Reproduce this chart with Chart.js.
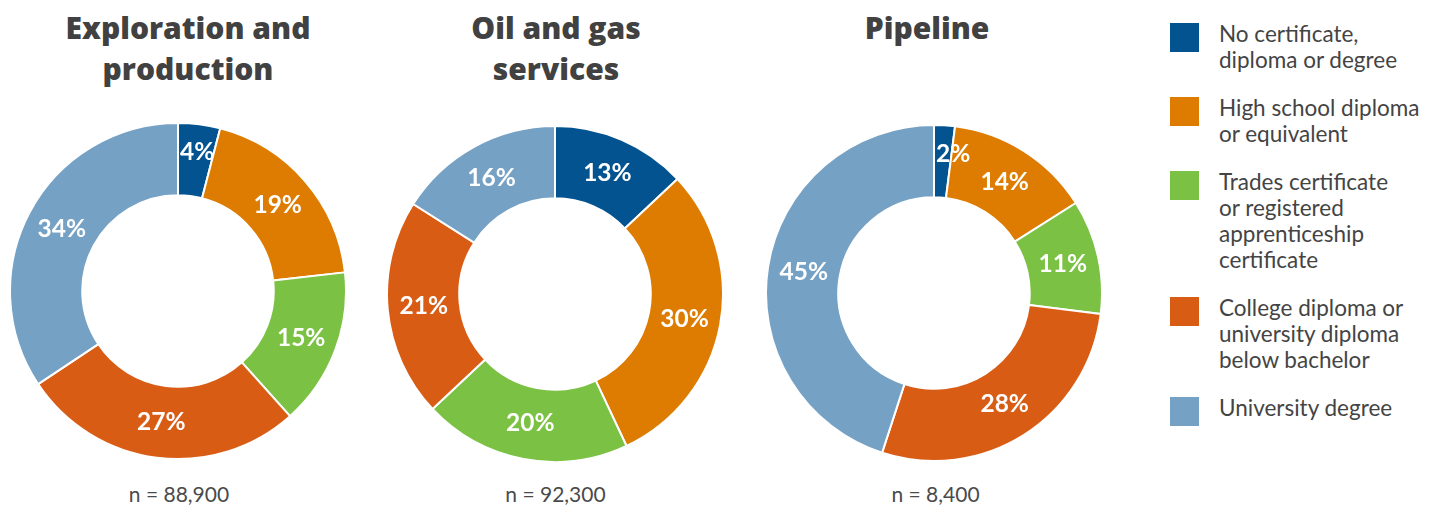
<!DOCTYPE html>
<html>
<head>
<meta charset="utf-8">
<script src="https://cdn.jsdelivr.net/npm/chart.js@4"></script>
<style>
  body { margin: 0; width: 1432px; height: 508px; background: #fff; position: relative; overflow: hidden; font-family: Lato, sans-serif; color: #444; }
  .title { position: absolute; top: 7px; width: 340px; margin-left: -170px; text-align: center; font-family: 'Open Sans', sans-serif; font-weight: 800; font-size: 30px; line-height: 41px; color: #414141; }
  .pie { position: absolute; width: 338px; height: 338px; }
  .count { position: absolute; top: 481px; width: 200px; margin-left: -100px; text-align: center; font-size: 21px; line-height: 25px; color: #4a4a4a; }
  #legend { position: absolute; left: 1170px; top: 21px; display: flex; flex-direction: column; gap: 22px; }
  .item { display: flex; }
  .swatch { width: 29px; height: 29px; margin-top: 2px; margin-right: 20px; flex: none; }
  .item span { font-size: 22.5px; line-height: 26px; color: #444; }
</style>
</head>
<body>
<div id="legend"></div>
<script>
'use strict';
// education categories, one line per array entry
let categories = [
  ['No certificate,', 'diploma or degree'],
  ['High school diploma', 'or equivalent'],
  ['Trades certificate', 'or registered', 'apprenticeship', 'certificate'],
  ['College diploma or', 'university diploma', 'below bachelor'],
  ['University degree']
];
let colours = ['#02538f', '#dd7c00', '#7bc143', '#d95c15', '#75a1c5'];

let titles = [['Exploration and', 'production'], ['Oil and gas', 'services'], ['Pipeline']];
let explorationShares = [4, 19, 15, 27, 34];
let servicesShares = [13, 30, 20, 21, 16];
let pipelineShares = [2, 14, 11, 28, 45];
let counts = ['n = 88,900', 'n = 92,300', 'n = 8,400'];

let shares = [explorationShares, servicesShares, pipelineShares];
// where each ring sits on the page
let centres = [[178, 291], [554.5, 293.5], [933.5, 293]];
let titleX = [188, 556, 927];
let countX = [179, 555.5, 935.5];

// white % inside every slice; thin slices get their text started at the slice edge
let sliceLabels = {
  id: 'sliceLabels',
  afterDatasetsDraw(chart) {
    let ctx = chart.ctx;
    let meta = chart.getDatasetMeta(0);
    let values = chart.data.datasets[0].data;
    ctx.save();
    ctx.fillStyle = '#fff';
    ctx.font = 'bold 24.5px Lato';
    ctx.textBaseline = 'middle';
    meta.data.forEach(function(arc, i) {
      let text = values[i] + '%';
      if (values[i] < 5) {
        let r = arc.outerRadius - 29;
        ctx.textAlign = 'left';
        ctx.fillText(text, arc.x + Math.cos(arc.startAngle) * r + 2, arc.y + Math.sin(arc.startAngle) * r);
      } else {
        let p = arc.getCenterPoint();
        ctx.textAlign = 'center';
        ctx.fillText(text, p.x, p.y);
      }
    });
    ctx.restore();
  }
};

for (let i = 0; i < shares.length; i++) {
  let t = document.createElement('div');
  t.className = 'title';
  t.style.left = titleX[i] + 'px';
  t.innerHTML = titles[i].join('<br>');
  document.body.appendChild(t);

  let box = document.createElement('div');
  box.className = 'pie';
  box.style.left = (centres[i][0] - 169) + 'px';
  box.style.top = (centres[i][1] - 169) + 'px';
  let canvas = document.createElement('canvas');
  box.appendChild(canvas);
  document.body.appendChild(box);

  let n = document.createElement('div');
  n.className = 'count';
  n.style.left = countX[i] + 'px';
  n.textContent = counts[i];
  document.body.appendChild(n);

  new Chart(canvas.getContext('2d'), {
    type: 'doughnut',
    data: {
      labels: categories.map(function(c) { return c.join(' '); }),
      datasets: [{
        data: shares[i],
        backgroundColor: colours,
        borderColor: '#fff',
        borderWidth: 2,
        hoverOffset: 0
      }]
    },
    options: {
      responsive: true,
      maintainAspectRatio: false,
      animation: false,
      events: [],
      cutout: '57%',
      plugins: {
        legend: { display: false },
        tooltip: { enabled: false }
      }
    },
    plugins: [sliceLabels]
  });
}

let legend = document.getElementById('legend');
for (let i = 0; i < categories.length; i++) {
  let item = document.createElement('div');
  item.className = 'item';
  let sw = document.createElement('div');
  sw.className = 'swatch';
  sw.style.background = colours[i];
  let label = document.createElement('span');
  label.innerHTML = categories[i].join('<br>');
  item.appendChild(sw);
  item.appendChild(label);
  legend.appendChild(item);
}
</script>
</body>
</html>
